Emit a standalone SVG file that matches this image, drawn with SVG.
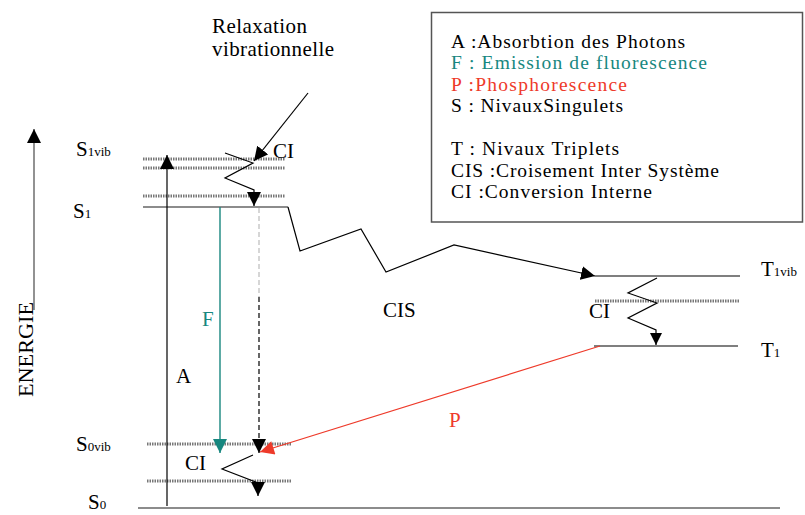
<svg xmlns="http://www.w3.org/2000/svg" width="805" height="515" viewBox="0 0 805 515">
<defs>
<style>
text{font-family:"Liberation Serif","Times New Roman",serif;fill:#000}
.lbl{font-size:21px}
.sub{font-size:13px}
.leg{font-size:19.5px}
.teal{fill:#17877f}
.red{fill:#ee3a2a}
.ln{stroke:#000;stroke-width:1.2;fill:none}
.gl{stroke:#666;stroke-width:1.6;fill:none}
.hatch{stroke:#777;stroke-width:3;stroke-dasharray:1.5 1;fill:none}
</style>
<marker id="ab" viewBox="0 0 10 10" refX="10" refY="5" markerUnits="userSpaceOnUse" markerWidth="14" markerHeight="14" orient="auto"><path d="M0,0 L10,5 L0,10 z" fill="#000"/></marker>
<marker id="abs" viewBox="0 0 10 10" refX="10" refY="5" markerUnits="userSpaceOnUse" markerWidth="12" markerHeight="12" orient="auto"><path d="M0,0 L10,5 L0,10 z" fill="#000"/></marker>
<marker id="at" viewBox="0 0 10 10" refX="10" refY="5" markerUnits="userSpaceOnUse" markerWidth="15" markerHeight="14" orient="auto"><path d="M0,0 L10,5 L0,10 z" fill="#17877f"/></marker>
<marker id="ar" viewBox="0 0 10 10" refX="10" refY="5" markerUnits="userSpaceOnUse" markerWidth="16" markerHeight="14" orient="auto"><path d="M0,0 L10,5 L0,10 z" fill="#ee3a2a"/></marker>
</defs>
<rect width="805" height="515" fill="#fff"/>

<g id="energy-axis">
<line x1="34" y1="310" x2="34" y2="129" stroke="#777" stroke-width="1.6" marker-end="url(#ab)"/>
<text class="lbl" transform="translate(33,397) rotate(-90)" style="font-size:22px" textLength="95" lengthAdjust="spacingAndGlyphs">ENERGIE</text>
</g>

<g id="relaxation-label">
<text class="lbl" x="212" y="33" textLength="95">Relaxation</text>
<text class="lbl" x="212" y="56" textLength="122">vibrationnelle</text>
</g>

<g id="legend">
<rect x="431.5" y="12.5" width="371" height="209.5" fill="#fff" stroke="#555" stroke-width="1.5"/>
<text class="leg" x="451" y="48" textLength="234">A :Absorbtion des Photons</text>
<text class="leg teal" x="451" y="69" textLength="256">F : Emission de fluorescence</text>
<text class="leg red" x="451" y="91" textLength="176">P :Phosphorescence</text>
<text class="leg" x="451" y="112" textLength="172">S : NivauxSingulets</text>
<text class="leg" x="451" y="155" textLength="168">T : Nivaux Triplets</text>
<text class="leg" x="451" y="177" textLength="268">CIS :Croisement Inter Système</text>
<text class="leg" x="451" y="198" textLength="201">CI :Conversion Interne</text>
</g>

<g id="S1vib">
<text class="lbl" x="76" y="156">S<tspan class="sub">1vib</tspan></text>
<line class="hatch" x1="143" y1="159" x2="285" y2="159"/>
<line class="hatch" x1="143" y1="168" x2="285" y2="168"/>
<line class="hatch" x1="143" y1="196" x2="285" y2="196"/>
</g>

<g id="S1">
<text class="lbl" x="73" y="218">S<tspan class="sub">1</tspan></text>
<line class="gl" x1="143" y1="207" x2="288" y2="207"/>
</g>

<g id="S0vib">
<text class="lbl" x="76" y="451">S<tspan class="sub">0vib</tspan></text>
<line class="hatch" x1="147" y1="444" x2="292" y2="444"/>
<line class="hatch" x1="147" y1="481" x2="292" y2="481"/>
</g>

<g id="S0">
<text class="lbl" x="88" y="509">S<tspan class="sub">0</tspan></text>
<line class="gl" x1="138" y1="508" x2="780" y2="508"/>
</g>

<g id="T1">
<text class="lbl" x="589" y="318">CI</text>
<line class="ln" x1="595" y1="276" x2="740" y2="276"/>
<line class="hatch" x1="595" y1="301" x2="740" y2="301"/>
<line class="ln" x1="594" y1="346" x2="738" y2="346"/>
<text class="lbl" x="761" y="276">T<tspan class="sub">1vib</tspan></text>
<text class="lbl" x="761" y="357">T<tspan class="sub">1</tspan></text>
</g>

<g id="labels">
<text class="lbl" x="273" y="158">CI</text>
<text class="lbl" x="185" y="470">CI</text>
<text class="lbl" x="176" y="383">A</text>
<text class="lbl teal" x="202" y="326">F</text>
<text class="lbl" x="383" y="317">CIS</text>
<text class="lbl red" x="449" y="427">P</text>
</g>

<g id="connectors">
<line class="ln" x1="167" y1="506" x2="167" y2="155" marker-end="url(#ab)"/>
<line class="ln" x1="308" y1="93" x2="254" y2="161" marker-end="url(#ab)"/>
<polyline class="ln" points="225,153 253,163 225,178 254,190 254,206" marker-end="url(#ab)"/>
<line x1="220" y1="207" x2="220" y2="453" stroke="#17877f" stroke-width="1.4" marker-end="url(#at)"/>
<line x1="259" y1="208" x2="259" y2="297" stroke="#bbb" stroke-width="1.2" stroke-dasharray="5 3"/>
<line x1="259" y1="297" x2="259" y2="440" stroke="#000" stroke-width="1.2" stroke-dasharray="5 3"/>
<line x1="259" y1="440" x2="259" y2="453" stroke="#000" stroke-width="1.2" marker-end="url(#ab)"/>
<polyline class="ln" points="253,455 222,469 258,483 258,496" marker-end="url(#ab)"/>
<line x1="600" y1="346" x2="260" y2="452" stroke="#ee3a2a" stroke-width="1.3" marker-end="url(#ar)"/>
<polyline class="ln" points="288,207 300,251 361,229 386,272 454,245 595,276" marker-end="url(#ab)"/>
<polyline class="ln" points="657,278 628,293 657,303 628,318 656,330 656,345" marker-end="url(#abs)"/>
</g>
</svg>
